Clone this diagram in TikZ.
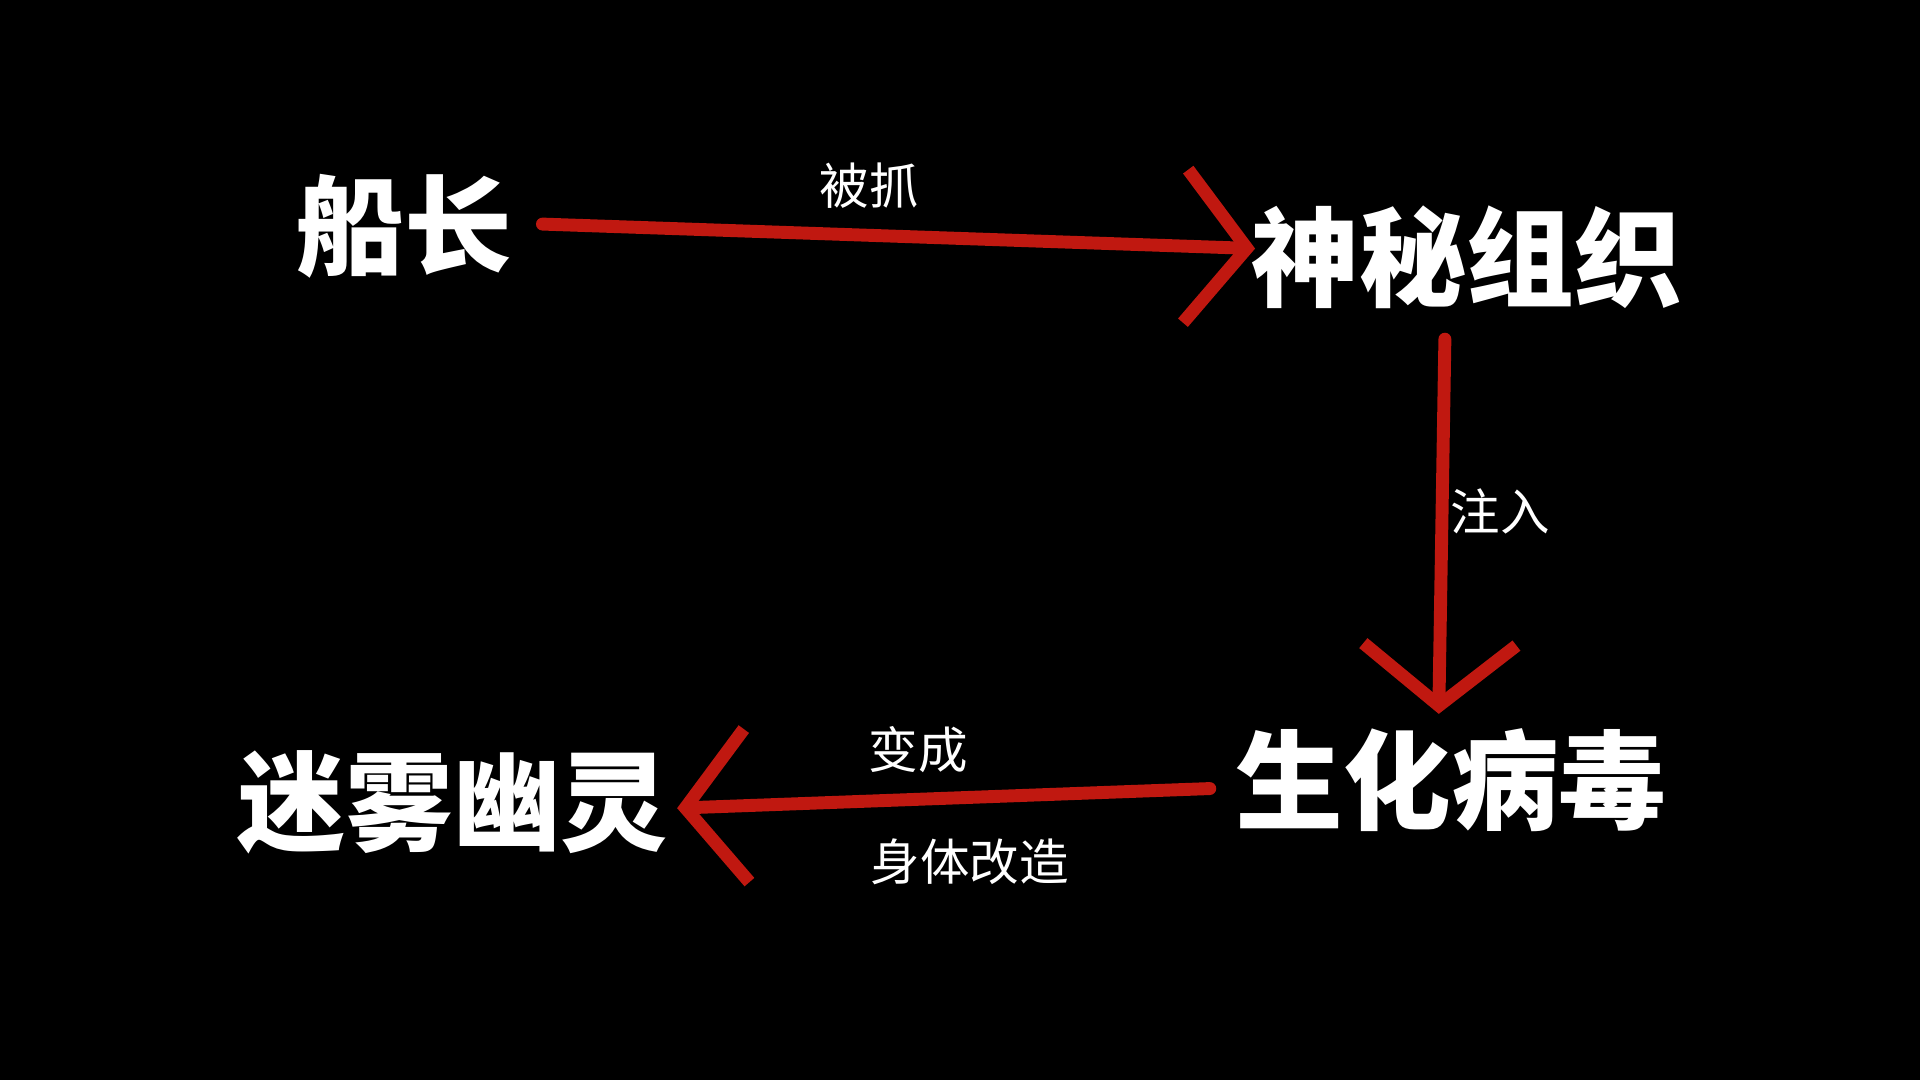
\documentclass[tikz,border=0pt]{standalone}
\usepackage{fontspec}
\newfontfamily\cjk{Noto Sans CJK SC}
\newfontfamily\cjkb{Noto Sans CJK SC Black}
\usetikzlibrary{arrows.meta}
\definecolor{arr}{HTML}{C01810}
\begin{document}
\begin{tikzpicture}[x=0.01cm,y=-0.01cm,
  big/.style={text=white,font=\cjkb\fontsize{25}{25}\selectfont,inner sep=0pt},
  lab/.style={text=white,font=\cjk\fontsize{11.5}{12}\selectfont,inner sep=0pt},
  conn/.style={arr,line width=3pt,line cap=round,-{Straight Barb[length=0.5cm,width=1.25cm,line width=3pt]}}]
\fill[black] (0,0) rectangle (1568,882);
\useasboundingbox (0,0) rectangle (1568,882);
\node[big] (a) at (330,185) {船长};
\node[big] (b) at (1198,210) {神秘组织};
\node[big] (c) at (1185,637) {生化病毒};
\node[big] (d) at (370,655) {迷雾幽灵};
\coordinate (a1) at (443,183); \coordinate (b1) at (1025,203);
\coordinate (b2) at (1180,277); \coordinate (c1) at (1175,583);
\coordinate (c2) at (988,644); \coordinate (d1) at (553,660);
\draw[conn] (a1) -- (b1);
\draw[conn] (b2) -- (c1);
\draw[conn] (c2) -- (d1);
\node[lab] (l1) at (710,152) {被抓};
\node[lab] (l2) at (1225,418) {注入};
\node[lab] (l3) at (750,612) {变成};
\node[lab] (l4) at (792,704) {身体改造};
\end{tikzpicture}
\end{document}
